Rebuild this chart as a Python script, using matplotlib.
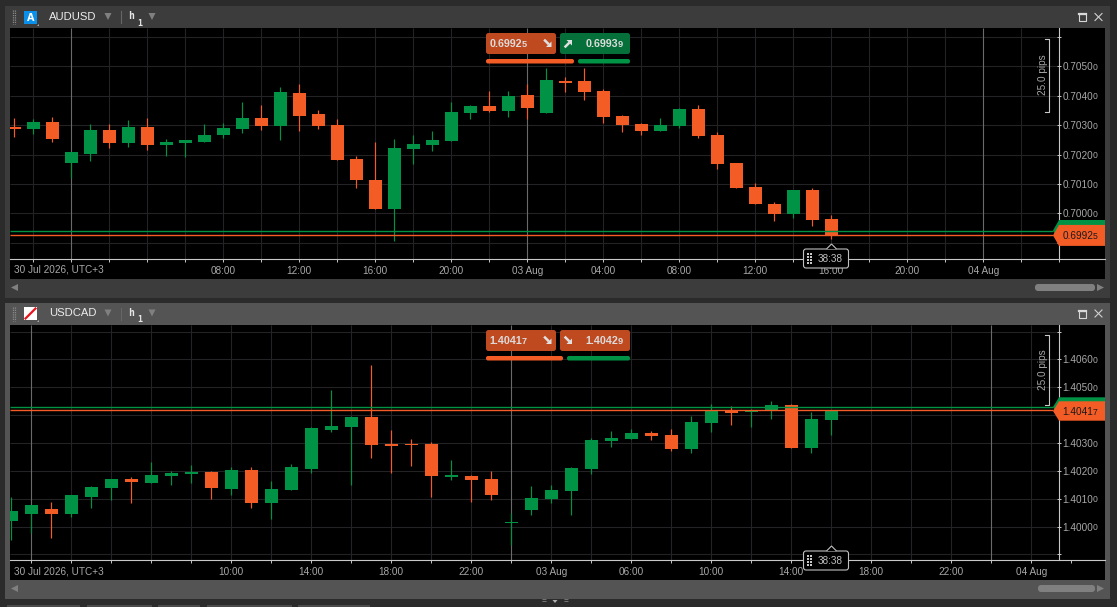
import numpy as np
import matplotlib
matplotlib.use('Agg')
import matplotlib.pyplot as plt
from matplotlib.patches import FancyBboxPatch, Polygon, Rectangle

plt.rcParams['font.family'] = ['Liberation Sans', 'DejaVu Sans']

# AUDUSD h1
aud_open = [.70294, .70287, .70311, .70171, .70202, .70284, .70239, .70294, .70233, .70239, .70243,
            .70267, .70287, .70324, .70297, .70410, .70338, .70301, .70185, .70114, .70015, .70219,
            .70233, .70246, .70342, .70365, .70348, .70403, .70342, .70450, .70450, .70416, .70331,
            .70304, .70280, .70297, .70355, .70267, .70171, .70090, .70032, .69998, .70080, .69981]
aud_high = [.70324, .70321, .70328, .70209, .70304, .70304, .70318, .70324, .70253, .70250, .70304,
            .70308, .70379, .70369, .70430, .70440, .70352, .70321, .70195, .70243, .70253, .70267,
            .70280, .70379, .70369, .70416, .70416, .70440, .70495, .70464, .70495, .70423, .70335,
            .70308, .70324, .70359, .70369, .70277, .70171, .70103, .70039, .70080, .70086, .69995]
aud_low = [.70261, .70270, .70243, .70120, .70178, .70222, .70226, .70216, .70195, .70192, .70243,
           .70256, .70273, .70284, .70250, .70280, .70287, .70182, .70086, .70015, .69906, .70168,
           .70212, .70246, .70321, .70345, .70328, .70321, .70342, .70413, .70386, .70308, .70277,
           .70267, .70280, .70290, .70256, .70151, .70086, .70032, .69974, .69984, .69957, .69913]
aud_close = [.70287, .70311, .70253, .70209, .70284, .70239, .70294, .70233, .70243, .70250, .70267,
             .70290, .70324, .70297, .70413, .70331, .70297, .70182, .70114, .70015, .70222, .70236,
             .70250, .70345, .70365, .70348, .70399, .70359, .70454, .70444, .70413, .70328, .70301,
             .70280, .70301, .70355, .70263, .70168, .70086, .70032, .69998, .70080, .69978, .69925]

# USDCAD h1
cad_open = [1.40020, 1.40045, 1.40063, 1.40045, 1.40106, 1.40139, 1.40171, 1.40157, 1.40182, 1.40189, 1.40196,
            1.40135, 1.40203, 1.40085, 1.40131, 1.40207, 1.40347, 1.40358, 1.40394, 1.40297, 1.40297,
            1.40297, 1.40178, 1.40182, 1.40171, 1.40013, 1.40060, 1.40099, 1.40128, 1.40207, 1.40307,
            1.40315, 1.40336, 1.40329, 1.40279, 1.40372, 1.40417, 1.40411, 1.40419, 1.40437, 1.40282, 1.40383]
cad_high = [1.40106, 1.40078, 1.40088, 1.40113, 1.40146, 1.40171, 1.40178, 1.40232, 1.40200, 1.40221, 1.40200,
            1.40214, 1.40214, 1.40164, 1.40225, 1.40358, 1.40491, 1.40397, 1.40580, 1.40347, 1.40315,
            1.40304, 1.40239, 1.40185, 1.40200, 1.40049, 1.40146, 1.40149, 1.40214, 1.40318, 1.40343,
            1.40350, 1.40343, 1.40350, 1.40397, 1.40440, 1.40433, 1.40422, 1.40451, 1.40440, 1.40411, 1.40417]
cad_low = [1.39952, 1.39977, 1.39959, 1.40034, 1.40067, 1.40096, 1.40085, 1.40157, 1.40149, 1.40157, 1.40099,
           1.40113, 1.40067, 1.40027, 1.40131, 1.40192, 1.40340, 1.40149, 1.40246, 1.40192, 1.40218,
           1.40106, 1.40167, 1.40088, 1.40096, 1.39934, 1.40042, 1.40085, 1.40042, 1.40189, 1.40286,
           1.40315, 1.40311, 1.40271, 1.40264, 1.40340, 1.40365, 1.40358, 1.40386, 1.40282, 1.40264, 1.40329]
cad_close = [1.40056, 1.40078, 1.40045, 1.40113, 1.40142, 1.40171, 1.40160, 1.40185, 1.40192, 1.40196, 1.40139,
             1.40203, 1.40085, 1.40135, 1.40214, 1.40354, 1.40361, 1.40394, 1.40293, 1.40289, 1.40293,
             1.40182, 1.40185, 1.40167, 1.40113, 1.40017, 1.40103, 1.40131, 1.40210, 1.40311, 1.40318,
             1.40336, 1.40325, 1.40279, 1.40376, 1.40415, 1.40408, 1.40417, 1.40437, 1.40282, 1.40386, 1.40417]

aud_bid, aud_ask = 0.69925, 0.69941
cad_bid, cad_ask = 1.40417, 1.40429

aud_yticks = [0.6990, 0.7000, 0.7010, 0.7020, 0.7030, 0.7040, 0.7050, 0.7060]
aud_ylabels = ['', '0.7000', '0.7010', '0.7020', '0.7030', '0.7040', '0.7050', '']
cad_yticks = [1.3990, 1.4000, 1.4010, 1.4020, 1.4030, 1.4040, 1.4050, 1.4060, 1.4070]
# 1.4040 sits under the price tag in the app, so no label there
cad_ylabels = ['', '1.4000', '1.4010', '1.4020', '1.4030', '', '1.4050', '1.4060', '']

aud_xticks = list(range(1, 56, 2))
aud_xlabels = {11: '08:00', 15: '12:00', 19: '16:00', 23: '20:00', 27: '03 Aug', 31: '04:00', 35: '08:00',
               39: '12:00', 43: '16:00', 47: '20:00', 51: '04 Aug'}
cad_xticks = list(range(1, 54, 2))
cad_xlabels = {11: '10:00', 15: '14:00', 19: '18:00', 23: '22:00', 27: '03 Aug', 31: '06:00', 35: '10:00',
               39: '14:00', 43: '18:00', 47: '22:00', 51: '04 Aug'}
aud_session_bars = [3, 27, 51]
cad_session_bars = [1, 25, 49]

ORANGE = '#f45c26'
GREEN = '#009345'
GRID = '#232326'
BRIGHT = '#6a6a6a'
AXIS = '#c8c8c8'
LABEL = '#a8a8a8'
W, H = 1117, 607

fig = plt.figure(figsize=(W / 100, H / 100), dpi=100, facecolor='#2b2b2b')


def pixel_axes(z):
    a = fig.add_axes([0, 0, 1, 1], zorder=z)
    a.set_xlim(0, W)
    a.set_ylim(H, 0)
    a.axis('off')
    a.patch.set_alpha(0)
    return a


back = pixel_axes(0)
front = pixel_axes(5)


def round_box(a, x0, y0, x1, y1, color, r=2.5, z=3, ec='none', lw=0):
    a.add_patch(FancyBboxPatch((x0 + r, y0 + r), x1 - x0 - 2 * r, y1 - y0 - 2 * r,
                               boxstyle='round,pad=%g,rounding_size=%g' % (r, r),
                               fc=color, ec=ec, lw=lw, zorder=z))


def price_text(a, x, y, s, color, size=7.2, small=6.2, weight='normal'):
    # last digit (pipette) is drawn smaller, same baseline
    a.text(x, y, s[:-1], color=color, fontsize=size, ha='right', va='baseline', weight=weight, zorder=6)
    a.text(x - 0.6, y, s[-1], color=color, fontsize=small, ha='left', va='baseline', weight=weight, zorder=6)


def corner_arrow(cx, cy, sx, sy):
    # fat diagonal arrow, head in the (sx, sy) corner
    hx, hy = cx + 3.5 * sx, cy + 3.5 * sy
    front.add_patch(Polygon([(hx, hy), (hx - 5.5 * sx, hy), (hx, hy - 5.5 * sy)], fc='#e0e0e0', lw=0, zorder=6))
    front.plot([cx - 3 * sx, cx], [cy - 3 * sy, cy], color='#e0e0e0', lw=1.8, zorder=6)


def chart(top, bottom, x0, dx, width, p_anchor, y_anchor, px_per_unit, opens, highs, lows, closes,
          yticks, ylabels, xticks, xlabels, sessions, bid, ask, axis_y):
    ax = fig.add_axes([10 / W, 1 - bottom / H, 1095 / W, (bottom - top) / H], zorder=2)
    ax.set_facecolor('black')
    ax.set_xlim((10 - x0) / dx, (1105 - x0) / dx)
    ax.set_ylim(p_anchor + (y_anchor - bottom) / px_per_unit, p_anchor + (y_anchor - top) / px_per_unit)
    ymin, ymax = ax.get_ylim()
    xmin, xmax = ax.get_xlim()
    x_axis = (1059 - x0) / dx
    p_axis = p_anchor + (y_anchor - axis_y) / px_per_unit

    ax.hlines(yticks, xmin, x_axis, color=GRID, lw=0.8, zorder=1)
    plain = [t for t in xticks if t not in sessions and (x0 + dx * t) < 1055]
    ax.vlines(plain, p_axis, ymax, color=GRID, lw=0.8, zorder=1)
    ax.vlines(sessions, p_axis, ymax, color=BRIGHT, lw=0.8, zorder=1)

    idx = np.arange(len(opens))
    o, h, l, c = map(np.array, (opens, highs, lows, closes))
    colors = [GREEN if b >= a else ORANGE for a, b in zip(o, c)]
    ax.vlines(idx, l, h, color=colors, lw=0.85, zorder=2)
    ax.bar(idx, np.abs(c - o), bottom=np.minimum(o, c), width=width / dx, color=colors, lw=0, zorder=3)

    ax.hlines(ask, xmin, x_axis - 6 / dx, color=GREEN, lw=1.0, zorder=4)
    ax.hlines(bid, xmin, x_axis - 6 / dx, color=ORANGE, lw=1.0, zorder=4)

    for side in ('top', 'left'):
        ax.spines[side].set_visible(False)
    ax.spines['right'].set_position(('data', x_axis))
    ax.spines['right'].set_bounds(p_axis, ymax)
    ax.spines['bottom'].set_position(('data', p_axis))
    ax.spines['right'].set_color(AXIS)
    ax.spines['bottom'].set_color(AXIS)
    ax.spines['right'].set_linewidth(0.8)
    ax.spines['bottom'].set_linewidth(0.8)
    ax.yaxis.tick_right()
    ax.set_yticks(yticks)
    ax.set_yticklabels(ylabels)
    ax.tick_params(axis='y', direction='inout', length=3.2, width=0.7, color=AXIS, labelcolor=LABEL,
                   labelsize=7.2, pad=0.9)
    ax.set_xticks(xticks)
    ax.set_xticklabels([xlabels.get(t, '') for t in xticks])
    ax.tick_params(axis='x', direction='out', length=2.2, width=0.7, color=AXIS, labelcolor=LABEL,
                   labelsize=7.2, pad=3.0)
    # small trailing digit of the price scale
    for t, s in zip(yticks, ylabels):
        if s:
            y_px = y_anchor - (t - p_anchor) * px_per_unit
            front.text(1092.6, y_px + 3.6, '0', color=LABEL, fontsize=6.2, ha='left', va='baseline', zorder=4)
    return ax


# window frames
back.add_patch(Rectangle((5, 6), 1105, 292, fc='#3c3c3c', lw=0))
back.add_patch(Rectangle((5, 303), 1105, 296, fc='#545454', lw=0))
for tx0, tx1 in [(7, 80), (87, 152), (158, 200), (207, 292), (298, 370)]:
    back.add_patch(Rectangle((tx0, 605), tx1 - tx0, 2, fc='#4a4a4a', lw=0))

ax_top = chart(28, 279, 14.3, 19, 13, 0.7000, 213.4, 29400, aud_open, aud_high, aud_low, aud_close,
               aud_yticks, aud_ylabels, aud_xticks, aud_xlabels, aud_session_bars, aud_bid, aud_ask, 259)
ax_bot = chart(325, 580, 11.3, 20, 13, 1.4000, 526.6, 27850, cad_open, cad_high, cad_low, cad_close,
               cad_yticks, cad_ylabels, cad_xticks, cad_xlabels, cad_session_bars, cad_bid, cad_ask, 560)


def header(y, name, icon_y, blue):
    for gx in (12.5, 14.5):
        front.plot([gx, gx], [y - 7, y + 7], color='#8a8a8a', lw=0.9, ls=(0, (1, 0.8)))
    if blue:
        front.add_patch(Rectangle((24, icon_y), 13, 13, fc='#0a90e8', lw=0))
        front.text(30.5, icon_y + 6.7, 'A', color='white', fontsize=7, ha='center', va='center',
                   family='DejaVu Sans', weight='bold')
    else:
        front.add_patch(Rectangle((24, icon_y), 13, 13, fc='white', lw=0))
        front.plot([25.5, 35.5], [icon_y + 11.5, icon_y + 1.5], color='#e8141c', lw=1.6)
    front.add_patch(Polygon([(36.5, icon_y + 14.5), (38.5, icon_y + 14.5), (38.5, icon_y + 12.5)], fc='#aaaaaa', lw=0))
    front.text(49, y, name, color='#ececec', fontsize=8.1, ha='left', va='center')
    for tx in (108, 152):
        front.add_patch(Polygon([(tx - 3.5, y - 4), (tx + 3.5, y - 4), (tx, y + 3)], fc='#808080', lw=0))
    front.plot([120.5, 120.5], [y - 6, y + 6], color='#666666', lw=0.8)
    front.text(131, y - 1, 'h', color='#e8e8e8', fontsize=7, ha='center', va='center',
               family='DejaVu Sans Mono', weight='bold')
    front.text(140, y + 6, '1', color='#e8e8e8', fontsize=6, ha='center', va='center',
               family='DejaVu Sans Mono', weight='bold')
    # maximize and close
    front.add_patch(Rectangle((1079, y - 3), 7, 7, fc='none', ec='#d8d8d8', lw=0.8))
    front.plot([1079, 1086], [y - 3, y - 3], color='#d8d8d8', lw=1.6)
    front.plot([1095, 1102], [y - 3.5, y + 3.5], color='#d0d0d0', lw=0.8)
    front.plot([1095, 1102], [y + 3.5, y - 3.5], color='#d0d0d0', lw=0.8)


header(17, 'AUDUSD', 11, True)
header(313.5, 'USDCAD', 307, False)


def quote_boxes(y, left_c, right_c, bid_s, ask_s, split, right_up):
    round_box(front, 486, y, 556, y + 21, left_c)
    round_box(front, 560, y, 630, y + 21, right_c)
    price_text(front, 522, y + 14.2, bid_s, '#dcdcdc', size=7.7, small=6.6, weight='bold')
    price_text(front, 618.3, y + 14.2, ask_s, '#dcdcdc', size=7.7, small=6.6, weight='bold')
    corner_arrow(548, y + 10.5, 1, 1)
    corner_arrow(568.5, y + 10.5, 1, -1 if right_up else 1)
    round_box(front, 486, y + 26, split, y + 30.5, ORANGE, r=2)
    round_box(front, split + 4, y + 26, 630, y + 30.5, GREEN, r=2)


quote_boxes(33, '#bf4a20', '#06703a', '0.69925', '0.69939', 574, True)
quote_boxes(330, '#bf4a20', '#bf4a20', '1.40417', '1.40429', 563, False)


def price_tag(y_green, y_orange, half, s):
    front.add_patch(Polygon([(1053, y_green), (1059, y_green - half), (1105, y_green - half),
                             (1105, y_green + half), (1059, y_green + half)], fc=GREEN, lw=0, zorder=3))
    front.add_patch(Polygon([(1053, y_orange), (1059, y_orange - half), (1105, y_orange - half),
                             (1105, y_orange + half), (1059, y_orange + half)], fc=ORANGE, lw=0, zorder=3.5))
    price_text(front, 1093.2, y_orange + 3.6, s, '#1a1a1a')


price_tag(230.5, 235.4, 10.5, '0.69925')
price_tag(407, 411, 9.7, '1.40417')


def timer(y0):
    pts = [(826.5, y0), (831.5, y0 - 5), (836.5, y0)]
    round_box(front, 803.5, y0, 848.5, y0 + 19, 'black', r=2.5, z=4, ec='#c0c0c0', lw=0.8)
    front.add_patch(Polygon(pts, closed=False, fc='black', ec='#c0c0c0', lw=0.8, zorder=4.2))
    for gx in (808, 811):
        for gy in (y0 + 5, y0 + 8, y0 + 11, y0 + 14):
            front.add_patch(Rectangle((gx - 1, gy - 1), 2, 2, fc='#c8c8c8', lw=0, zorder=5))
    front.text(830.5, y0 + 10, '38:38', color='#c0c0c0', fontsize=7.2, ha='center', va='center', zorder=6)


timer(249)
timer(551)


def pips(y0, y1):
    front.plot([1044.5, 1048.5, 1048.5, 1044.5], [y0, y0, y1, y1], color='#c8c8c8', lw=0.8)
    front.text(1042.5, (y0 + y1) / 2, '25.0 pips', color=LABEL, fontsize=7.2, rotation=90,
               ha='center', va='center')


pips(38.5, 111.5)
pips(335, 404.5)


def scroller(y, x0, x1):
    round_box(front, x0, y - 3.5, x1, y + 3.5, '#808080', r=3)
    front.add_patch(Polygon([(11, y), (18, y - 3.5), (18, y + 3.5)], fc='#808080', lw=0))
    front.add_patch(Polygon([(1104, y), (1097, y - 3.5), (1097, y + 3.5)], fc='#808080', lw=0))


front.text(14.5, 270, '30 Jul 2026, UTC+3', color=LABEL, fontsize=7.2, ha='left', va='center')
front.text(14.5, 571.5, '30 Jul 2026, UTC+3', color=LABEL, fontsize=7.2, ha='left', va='center')
scroller(287.5, 1035, 1095)
scroller(588.5, 1038, 1095)

# splitter handle
front.text(544.5, 601.5, '=', color='#b0b0b0', fontsize=6, ha='center', va='center')
front.text(566, 601.5, '=', color='#b0b0b0', fontsize=6, ha='center', va='center')
front.add_patch(Polygon([(552.5, 600), (557.5, 600), (555, 603)], fc='#b0b0b0', lw=0))

fig.savefig('out.png', dpi=100, facecolor=fig.get_facecolor())
